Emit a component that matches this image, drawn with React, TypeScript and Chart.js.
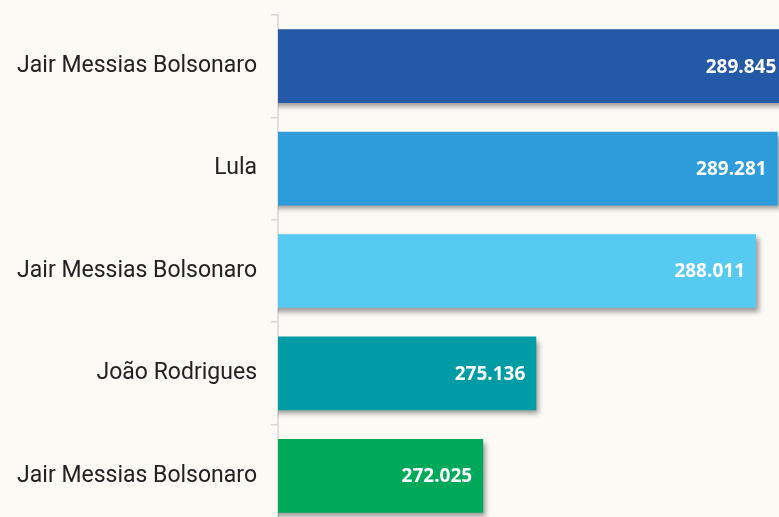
import React, { useEffect, useRef } from "react";
import { Chart, registerables } from "chart.js";

Chart.register(...registerables);

const categories = [
  "Jair Messias Bolsonaro",
  "Lula",
  "Jair Messias Bolsonaro",
  "João Rodrigues",
  "Jair Messias Bolsonaro",
];
const values = [289.845, 289.281, 288.011, 275.136, 272.025];
const valueLabels = ["289.845", "289.281", "288.011", "275.136", "272.025"];
const barColors = ["#2359A6", "#2E9CDB", "#56CAF1", "#009CA5", "#00A859"];

const xMin = 260;
const xMax = 291;

const shadowAndLabels = {
  id: "shadowAndLabels",
  beforeDatasetsDraw(chart: any) {
    const ctx = chart.ctx;
    ctx.save();
    ctx.shadowColor = "rgba(0,0,0,0.38)";
    ctx.shadowBlur = 5;
    ctx.shadowOffsetX = 3;
    ctx.shadowOffsetY = 4;
  },
  afterDatasetsDraw(chart: any) {
    const ctx = chart.ctx;
    ctx.restore();
    const meta = chart.getDatasetMeta(0);
    ctx.save();
    ctx.fillStyle = "#ffffff";
    ctx.font = "700 19px 'Open Sans'";
    ctx.textAlign = "right";
    ctx.textBaseline = "middle";
    meta.data.forEach((el: any, i: number) => {
      ctx.fillText(valueLabels[i], el.x - 11, el.y + 1);
    });
    ctx.restore();
  },
};

export default function App() {
  const ref = useRef<HTMLCanvasElement>(null);
  useEffect(() => {
    if (!ref.current) return;
    const chart = new Chart(ref.current, {
      type: "bar",
      data: {
        labels: categories,
        datasets: [
          {
            data: values,
            backgroundColor: barColors,
            borderWidth: 0,
          },
        ],
      },
      options: {
        indexAxis: "y",
        responsive: false,
        animation: false,
        devicePixelRatio: 1,
        layout: { padding: { top: 15, bottom: 3, left: 0, right: 0 } },
        plugins: {
          legend: { display: false },
          tooltip: { enabled: false },
        },
        scales: {
          x: { display: false, min: xMin, max: xMax },
          y: {
            afterFit(scale: any) {
              scale.width = 278;
              scale.paddingTop = 0;
              scale.paddingBottom = 0;
            },
            grid: {
              display: true,
              drawOnChartArea: false,
              drawTicks: true,
              tickLength: 7,
              color: "#d6d6d6",
              lineWidth: 1.5,
              offset: true,
            },
            border: { display: true, color: "#dedede", width: 2 },
            ticks: {
              padding: 14,
              color: "#222222",
              font: { family: "Roboto", size: 23 },
            },
          },
        },
      },
      plugins: [shadowAndLabels],
    });
    return () => chart.destroy();
  }, []);
  return (
    <div
      style={{
        position: "fixed",
        left: 0,
        top: 0,
        width: 779,
        height: 517,
        overflow: "hidden",
        background: "#FDFAF5",
      }}
    >
      <canvas ref={ref} width={807} height={530} style={{ display: "block" }} />
    </div>
  );
}
